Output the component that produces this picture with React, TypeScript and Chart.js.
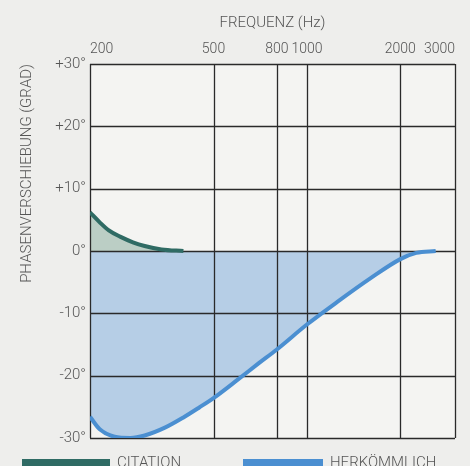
import React, { useEffect, useRef } from "react";
import { Chart, registerables } from "chart.js";

Chart.register(...registerables);

// Frequencies (Hz) and phase shift (degrees)
const CITATION_FREQ = [200, 215, 230, 250, 275, 300, 340, 400];
const CITATION_PHASE = [6.2, 4.6, 3.3, 2.3, 1.4, 0.8, 0.25, 0];

const HERK_FREQ = [200, 215, 240, 270, 300, 350, 400, 450, 500, 600, 700, 800, 1000, 1250, 1600, 2000, 2250, 2600];
const HERK_PHASE = [-26.6, -28.6, -29.8, -30.0, -29.6, -28.3, -26.7, -25.1, -23.6, -20.6, -18.0, -15.8, -11.8, -8.2, -4.4, -1.3, -0.3, 0];

const FREQ_TICKS = [200, 500, 800, 1000, 2000, 3000];
const PHASE_TICKS = [30, 20, 10, 0, -10, -20, -30];

const LABEL_CITATION = "CITATION";
const LABEL_HERK = "HERKÖMMLICH";
const X_TITLE = "FREQUENZ (Hz)";
const Y_TITLE = "PHASENVERSCHIEBUNG (GRAD)";

const FONT = "Roboto, sans-serif";
const TEXT_COLOR = "#555555";
const GRID_COLOR = "#2a2a2a";

const CIT_LINE = "#2f6b64";
const CIT_FILL = "rgba(140,175,160,0.55)";
const HERK_LINE = "#4b8fd1";
const HERK_FILL = "rgba(140,180,222,0.6)";

const bgPlugin = {
  id: "bg",
  beforeDraw(chart: any) {
    const ctx = chart.ctx;
    ctx.save();
    ctx.fillStyle = "#eeeeec";
    ctx.fillRect(0, 0, chart.width, chart.height);
    const a = chart.chartArea;
    ctx.fillStyle = "#f4f4f2";
    ctx.fillRect(a.left, a.top, a.right - a.left, a.bottom - a.top);
    ctx.restore();
  },
};

// draw the grid between the fill layers and the curves
const gridOverFillPlugin = {
  id: "gridOverFill",
  beforeDatasetsDraw(chart: any) {
    chart.$gridDone = false;
  },
  beforeDatasetDraw(chart: any, args: any) {
    const ds = chart.data.datasets[args.index];
    if (!chart.$gridDone && ds.fill === false) {
      chart.$gridDone = true;
      const a = chart.chartArea;
      const ctx = chart.ctx;
      ctx.save();
      ctx.strokeStyle = GRID_COLOR;
      ctx.lineWidth = 1.3;
      ctx.beginPath();
      chart.scales.x.ticks.forEach((t: any) => {
        const x = Math.round(chart.scales.x.getPixelForValue(t.value)) + 0.5;
        ctx.moveTo(x, a.top);
        ctx.lineTo(x, a.bottom);
      });
      chart.scales.y.ticks.forEach((t: any) => {
        const y = Math.round(chart.scales.y.getPixelForValue(t.value)) + 0.5;
        ctx.moveTo(a.left, y);
        ctx.lineTo(a.right, y);
      });
      ctx.stroke();
      ctx.restore();
    }
  },
};

const legendPlugin = {
  id: "customLegend",
  afterDraw(chart: any) {
    const ctx = chart.ctx;
    const a = chart.chartArea;
    const items = [
      { color: CIT_LINE, label: LABEL_CITATION, x: 22, w: 88 },
      { color: HERK_LINE, label: LABEL_HERK, x: 243, w: 80 },
    ];
    ctx.save();
    items.forEach((it) => {
      ctx.fillStyle = it.color;
      ctx.fillRect(it.x, a.bottom + 21, it.w, 10);
      ctx.fillStyle = TEXT_COLOR;
      ctx.font = `300 15px ${FONT}`;
      ctx.textBaseline = "alphabetic";
      ctx.fillText(it.label, it.x + it.w + 7, a.bottom + 29);
    });
    ctx.restore();
  },
};

export default function App() {
  const ref = useRef<HTMLCanvasElement | null>(null);

  useEffect(() => {
    if (!ref.current) return;
    const citData = CITATION_FREQ.map((f, i) => ({ x: f, y: CITATION_PHASE[i] }));
    const herkData = HERK_FREQ.map((f, i) => ({ x: f, y: HERK_PHASE[i] }));
    const chart = new Chart(ref.current, {
      type: "line",
      data: {
        datasets: [
          {
            label: LABEL_CITATION,
            data: citData,
            borderColor: CIT_LINE,
            borderWidth: 4,
            pointRadius: 0,
            fill: false,
            cubicInterpolationMode: "monotone",
            order: 1,
          },
          {
            label: LABEL_HERK,
            data: herkData,
            borderColor: HERK_LINE,
            borderWidth: 4,
            pointRadius: 0,
            fill: false,
            cubicInterpolationMode: "monotone",
            order: 1,
          },
          {
            label: LABEL_CITATION + " fill",
            data: citData,
            borderWidth: 0,
            borderColor: "rgba(0,0,0,0)",
            backgroundColor: CIT_FILL,
            pointRadius: 0,
            fill: { value: 0 },
            cubicInterpolationMode: "monotone",
            order: 2,
          },
          {
            label: LABEL_HERK + " fill",
            data: herkData,
            borderWidth: 0,
            borderColor: "rgba(0,0,0,0)",
            backgroundColor: HERK_FILL,
            pointRadius: 0,
            fill: { value: 0 },
            cubicInterpolationMode: "monotone",
            order: 2,
          },
        ],
      },
      options: {
        responsive: false,
        animation: false,
        layout: { padding: { left: 0, right: 15, top: 0, bottom: 28 } },
        plugins: { legend: { display: false }, tooltip: { enabled: false } },
        scales: {
          x: {
            type: "logarithmic",
            position: "top",
            min: 200,
            max: 3000,
            afterBuildTicks: (scale: any) => {
              scale.ticks = FREQ_TICKS.map((v) => ({ value: v }));
            },
            afterFit: (scale: any) => {
              scale.height = 64;
            },
            ticks: {
              autoSkip: false,
              maxRotation: 0,
              align: "inner",
              padding: 6,
              color: TEXT_COLOR,
              font: { family: FONT, size: 14, weight: "300" },
              callback: (v: any) => String(v),
            },
            grid: { display: false, drawTicks: false },
            border: { display: false },
            title: {
              display: true,
              text: X_TITLE,
              color: TEXT_COLOR,
              font: { family: FONT, size: 15, weight: "300" },
              padding: { top: 14, bottom: 0 },
            },
          },
          y: {
            min: -30,
            max: 30,
            afterBuildTicks: (scale: any) => {
              scale.ticks = PHASE_TICKS.map((v) => ({ value: v }));
            },
            afterFit: (scale: any) => {
              scale.width = 90;
            },
            ticks: {
              padding: 4,
              color: TEXT_COLOR,
              font: { family: FONT, size: 15, weight: "300" },
              callback: (v: any) => (v > 0 ? `+${v}°` : `${v}°`),
            },
            grid: { display: false, drawTicks: false },
            border: { display: false },
            title: {
              display: true,
              text: Y_TITLE,
              align: "end",
              color: TEXT_COLOR,
              font: { family: FONT, size: 15, weight: "300" },
              padding: { top: 18, bottom: 0 },
            },
          },
        },
      } as any,
      plugins: [bgPlugin, gridOverFillPlugin, legendPlugin],
    });
    return () => chart.destroy();
  }, []);

  return (
    <div style={{ position: "absolute", left: 0, top: 0, width: 470, height: 466 }}>
      <canvas ref={ref} width={470} height={466} />
    </div>
  );
}
